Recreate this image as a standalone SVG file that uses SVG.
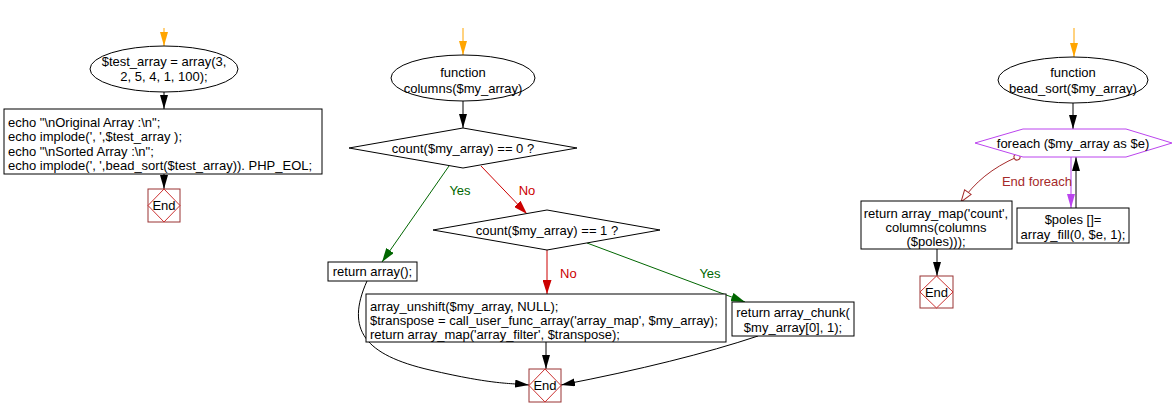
<svg xmlns="http://www.w3.org/2000/svg" width="1174" height="417" viewBox="0 0 1174 417">
<style>
text{font-family:"Liberation Sans",Arial,sans-serif;font-size:13px;fill:#000}
.c{text-anchor:middle}
.shape{fill:#fff;stroke:#000;stroke-width:1}
.endbox{fill:#fff;stroke:#993333;stroke-width:1}
.endd{fill:none;stroke:#cc3333;stroke-width:1}
.ln{fill:none;stroke-width:1}
</style>
<defs>
<marker id="aBlack" markerUnits="userSpaceOnUse" markerWidth="14" markerHeight="8" refX="14" refY="4" orient="auto" viewBox="0 0 14 8"><path d="M0,0 L14,4 L0,8 z" fill="#000"/></marker>
<marker id="aOrange" markerUnits="userSpaceOnUse" markerWidth="14" markerHeight="8" refX="14" refY="4" orient="auto" viewBox="0 0 14 8"><path d="M0,0 L14,4 L0,8 z" fill="#ffa500"/></marker>
<marker id="aGreen" markerUnits="userSpaceOnUse" markerWidth="14" markerHeight="9" refX="14" refY="4.5" orient="auto" viewBox="0 0 14 9"><path d="M0,0 L14,4.5 L0,9 z" fill="#006600"/></marker>
<marker id="aRed" markerUnits="userSpaceOnUse" markerWidth="14" markerHeight="9" refX="14" refY="4.5" orient="auto" viewBox="0 0 14 9"><path d="M0,0 L14,4.5 L0,9 z" fill="#cc0000"/></marker>
<marker id="aPurple" markerUnits="userSpaceOnUse" markerWidth="14" markerHeight="8" refX="14" refY="4" orient="auto" viewBox="0 0 14 8"><path d="M0,0 L14,4 L0,8 z" fill="#bb44ee"/></marker>
<marker id="aOpen" markerUnits="userSpaceOnUse" markerWidth="14" markerHeight="10" refX="13" refY="5" orient="auto" viewBox="0 0 14 10"><path d="M1,1 L13,5 L1,9 z" fill="#fff" stroke="#a52a2a"/></marker>
<marker id="dot" markerUnits="userSpaceOnUse" markerWidth="8" markerHeight="8" refX="4" refY="4" orient="auto" viewBox="0 0 8 8"><circle cx="4" cy="4" r="3" fill="#fff" stroke="#a52a2a"/></marker>
</defs>

<g id="connectors">
<path class="ln" stroke="#ffa500" d="M164,28 L164,46" marker-end="url(#aOrange)"/>
<path class="ln" stroke="#000" d="M164,92 L164,109" marker-end="url(#aBlack)"/>
<path class="ln" stroke="#000" d="M164,174 L164,189" marker-end="url(#aBlack)"/>

<path class="ln" stroke="#ffa500" d="M463,28 L463,55" marker-end="url(#aOrange)"/>
<path class="ln" stroke="#000" d="M463,101 L463,128" marker-end="url(#aBlack)"/>
<path class="ln" stroke="#006600" d="M449,166 L382,262" marker-end="url(#aGreen)"/>
<path class="ln" stroke="#cc0000" d="M481,166 L527,214" marker-end="url(#aRed)"/>
<path class="ln" stroke="#cc0000" d="M547,250 L547,294" marker-end="url(#aRed)"/>
<path class="ln" stroke="#006600" d="M587,243 L745,302" marker-end="url(#aGreen)"/>
<path class="ln" stroke="#000" d="M546,342 L546,369" marker-end="url(#aBlack)"/>
<path class="ln" stroke="#000" d="M367,281 C345,330 365,355 430,370 S510,383 529,385" marker-end="url(#aBlack)"/>
<path class="ln" stroke="#000" d="M758,336 Q680,362 561,385" marker-end="url(#aBlack)"/>

<path class="ln" stroke="#ffa500" d="M1074,28 L1074,57" marker-end="url(#aOrange)"/>
<path class="ln" stroke="#000" d="M1073,102 L1073,129" marker-end="url(#aBlack)"/>
<path class="ln" stroke="#bb44ee" d="M1071,157 L1071,208" marker-end="url(#aPurple)"/>
<path class="ln" stroke="#000" d="M1076,208 L1076,157" marker-end="url(#aBlack)"/>
<path class="ln" stroke="#a52a2a" d="M1017,157 C992,168 975,182 961,202" marker-start="url(#dot)" marker-end="url(#aOpen)"/>
<path class="ln" stroke="#000" d="M937,249 L937,276" marker-end="url(#aBlack)"/>

<text x="460" y="195" class="c" style="fill:#006600">Yes</text>
<text x="527" y="195" class="c" style="fill:#cc0000">No</text>
<text x="560" y="278" style="fill:#cc0000">No</text>
<text x="710" y="278" class="c" style="fill:#006600">Yes</text>
<text x="1037" y="186" class="c" style="fill:#a52a2a">End foreach</text>
</g>

<g id="start1">
<ellipse class="shape" cx="164" cy="69" rx="74" ry="23"/>
<text x="164" y="66" class="c">$test_array = array(3,</text>
<text x="164" y="81" class="c">2, 5, 4, 1, 100);</text>
</g>
<g id="echo">
<rect class="shape" x="4" y="109" width="318" height="65"/>
<text x="8" y="127">echo "\nOriginal Array :\n";</text>
<text x="8" y="141">echo implode(', ',$test_array );</text>
<text x="8" y="156">echo "\nSorted Array :\n";</text>
<text x="8" y="170">echo implode(', ',bead_sort($test_array)). PHP_EOL;</text>
</g>
<g id="end1">
<rect class="endbox" x="148" y="189" width="32" height="33"/>
<path class="endd" d="M164,189 L180,205.5 L164,222 L148,205.5 z"/>
<text x="164" y="210" class="c">End</text>
</g>

<g id="func_columns">
<ellipse class="shape" cx="463" cy="78" rx="72" ry="23"/>
<text x="463" y="77" class="c">function</text>
<text x="463" y="93" class="c">columns($my_array)</text>
</g>
<g id="dec1">
<path class="shape" d="M349,148 L463,128 L577,148 L463,168 z"/>
<text x="463" y="153" class="c">count($my_array) == 0 ?</text>
</g>
<g id="dec2">
<path class="shape" d="M433,230 L547,210 L660,230 L547,250 z"/>
<text x="547" y="235" class="c">count($my_array) == 1 ?</text>
</g>
<g id="ret_empty">
<rect class="shape" x="328" y="262" width="89" height="19"/>
<text x="372.5" y="276" class="c">return array();</text>
</g>
<g id="transpose">
<rect class="shape" x="366" y="294" width="360" height="48"/>
<text x="370" y="311">array_unshift($my_array, NULL);</text>
<text x="370" y="325">$transpose = call_user_func_array('array_map', $my_array);</text>
<text x="370" y="339">return array_map('array_filter', $transpose);</text>
</g>
<g id="ret_chunk">
<rect class="shape" x="732" y="302" width="122" height="34"/>
<text x="793" y="317" class="c">return array_chunk(</text>
<text x="793" y="332" class="c">$my_array[0], 1);</text>
</g>
<g id="end2">
<rect class="endbox" x="529" y="369" width="32" height="33"/>
<path class="endd" d="M545,369 L561,385.5 L545,402 L529,385.5 z"/>
<text x="545" y="390" class="c">End</text>
</g>

<g id="func_bead">
<ellipse class="shape" cx="1073" cy="80" rx="75" ry="23"/>
<text x="1073" y="77" class="c">function</text>
<text x="1073" y="93" class="c">bead_sort($my_array)</text>
</g>
<g id="foreach">
<path d="M975,143 L1023,129 L1126,129 L1172,143 L1126,157 L1023,157 z" fill="#fff" stroke="#bb44ee"/>
<text x="1073" y="148" class="c">foreach ($my_array as $e)</text>
</g>
<g id="poles">
<rect class="shape" x="1017" y="208" width="112" height="35"/>
<text x="1073" y="224" class="c">$poles []=</text>
<text x="1073" y="239" class="c">array_fill(0, $e, 1);</text>
</g>
<g id="ret_count">
<rect class="shape" x="861" y="201" width="151" height="48"/>
<text x="936" y="218" class="c">return array_map('count',</text>
<text x="936" y="232" class="c">columns(columns</text>
<text x="936" y="246" class="c">($poles)));</text>
</g>
<g id="end3">
<rect class="endbox" x="920" y="276" width="33" height="32"/>
<path class="endd" d="M936.5,276 L953,292 L936.5,308 L920,292 z"/>
<text x="936.5" y="297" class="c">End</text>
</g>
</svg>
